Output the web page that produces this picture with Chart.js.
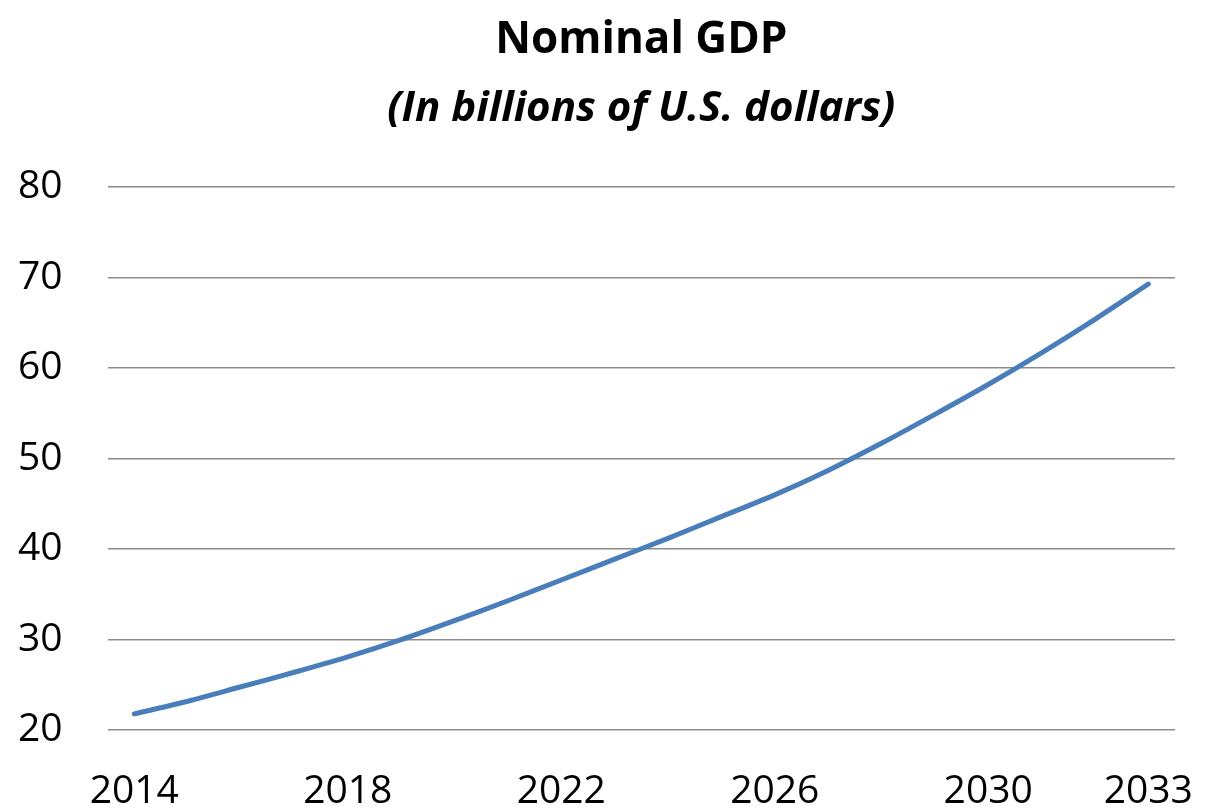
<!DOCTYPE html>
<html>
<head>
<meta charset="utf-8">
<script src="https://cdn.jsdelivr.net/npm/chart.js@4"></script>
<style>
	body { margin: 0; background: #fff; }
	#wrap { width: 1213px; height: 809px; }
</style>
</head>
<body>
<div id="wrap"><canvas id="gdp-chart"></canvas></div>
<script>
let years = ["2014","2015","2016","2017","2018","2019","2020","2021","2022","2023",
	"2024","2025","2026","2027","2028","2029","2030","2031","2032","2033"];
let gdp = [21.8, 23.2, 24.8, 26.4, 28.1, 30.0, 32.1, 34.3, 36.6, 38.9,
	41.2, 43.6, 46.0, 48.7, 51.7, 54.9, 58.2, 61.7, 65.4, 69.3];
let shownYears = ["2014","2018","2022","2026","2030","2033"];

let FONT = "'Open Sans', 'DejaVu Sans', sans-serif";

let gdpChart = new Chart(document.getElementById("gdp-chart"), {
	type: 'line',
	data: {
		labels: years,
		datasets: [{
			label: "Nominal GDP",
			data: gdp,
			borderColor: "#4a7ebb",
			borderWidth: 5,
			pointRadius: 0,
			borderCapStyle: 'round',
			tension: 0.3,
			fill: false
		}]
	},
	options: {
		responsive: true,
		maintainAspectRatio: false,
		animation: false,
		layout: { padding: { left: -27, right: 38, top: 14, bottom: -6 } },
		plugins: {
			legend: { display: false },
			tooltip: { enabled: false },
			title: {
				display: true,
				text: "Nominal GDP",
				color: "#000",
				fullSize: false,
				font: { family: FONT, size: 44, weight: 'bold' },
				padding: { top: 0, bottom: 17 }
			},
			subtitle: {
				display: true,
				text: "(In billions of U.S. dollars)",
				color: "#000",
				fullSize: false,
				font: { family: FONT, size: 42, weight: 'bold', style: 'italic' },
				padding: { top: 0, bottom: 53 }
			}
		},
		scales: {
			x: {
				offset: true,
				// invisible tick marks give the gap under the plot
				grid: { drawOnChartArea: false, drawTicks: true, tickLength: 38, color: 'rgba(0,0,0,0)' },
				border: { display: false },
				ticks: {
					autoSkip: false,
					maxRotation: 0,
					padding: 0,
					color: "#000",
					font: { family: FONT, size: 39 },
					callback: function(val, i) {
						let y = this.getLabelForValue(val);
						return shownYears.includes(y) ? y : "";
					}
				}
			},
			y: {
				min: 20,
				max: 80,
				grid: { color: "#8c8c8c", lineWidth: 1.6, drawTicks: false },
				border: { display: false },
				ticks: {
					stepSize: 10,
					padding: 45,
					color: "#000",
					font: { family: FONT, size: 39 }
				}
			}
		}
	}
});
</script>
</body>
</html>
